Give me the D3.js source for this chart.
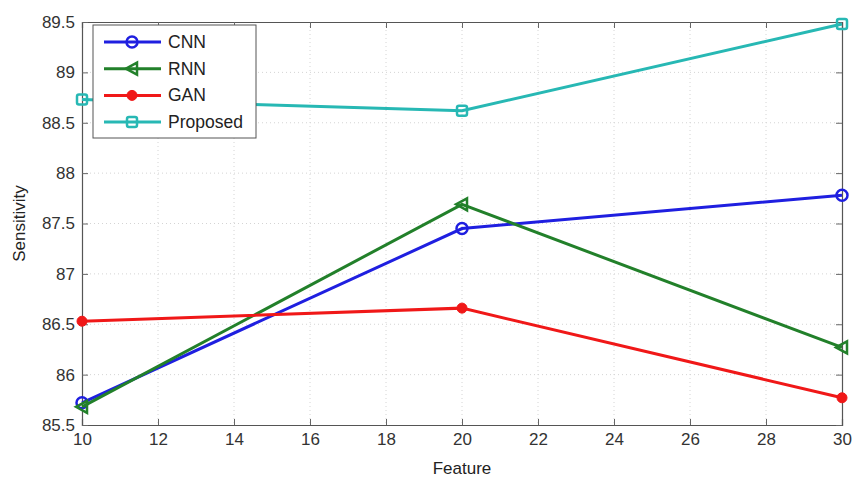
<!DOCTYPE html>
<html><head><meta charset="utf-8">
<script src="https://cdn.jsdelivr.net/npm/d3@7"></script>
<style>body{margin:0;background:#fff}svg{display:block}text{font-family:"Liberation Sans",Arial,sans-serif}</style>
</head><body><svg id="c" width="852" height="479"></svg>
<script>
const features = [10, 20, 30];
const cnn = [85.72, 87.45, 87.78];
const rnn = [85.68, 87.69, 86.27];
const gan = [86.53, 86.66, 85.77];
const proposed = [88.73, 88.62, 89.48];
const xTicks = [10,12,14,16,18,20,22,24,26,28,30];
const yTicks = [85.5,86,86.5,87,87.5,88,88.5,89,89.5];
const seriesNames = ["CNN","RNN","GAN","Proposed"];

const series = [
  {name:seriesNames[0], values:cnn, color:"#1f1fe0", marker:"circle"},
  {name:seriesNames[1], values:rnn, color:"#22802a", marker:"triangle"},
  {name:seriesNames[2], values:gan, color:"#f01818", marker:"dot"},
  {name:seriesNames[3], values:proposed, color:"#27b8b4", marker:"square"}
];

const svg = d3.select("#c");
const m = {l:82, r:842, t:22, b:425};
const x = d3.scaleLinear().domain([10,30]).range([m.l,m.r]);
const y = d3.scaleLinear().domain([85.5,89.5]).range([m.b,m.t]);

// grid
const g = svg.append("g");
g.selectAll(".gx").data(xTicks.slice(1,-1)).join("line")
  .attr("x1",d=>x(d)).attr("x2",d=>x(d)).attr("y1",m.t).attr("y2",m.b)
  .attr("stroke","#d4d4d4").attr("stroke-dasharray","1,3");
g.selectAll(".gy").data(yTicks.slice(1,-1)).join("line")
  .attr("y1",d=>y(d)).attr("y2",d=>y(d)).attr("x1",m.l).attr("x2",m.r)
  .attr("stroke","#d4d4d4").attr("stroke-dasharray","1,3");

// axes
const xa = svg.append("g").attr("transform",`translate(0,${m.b})`)
  .call(d3.axisBottom(x).tickValues(xTicks).tickSize(-6).tickPadding(8).tickFormat(d3.format("d")));
const xt = svg.append("g").attr("transform",`translate(0,${m.t})`)
  .call(d3.axisTop(x).tickValues(xTicks).tickSize(-6).tickFormat(""));
const ya = svg.append("g").attr("transform",`translate(${m.l},0)`)
  .call(d3.axisLeft(y).tickValues(yTicks).tickSize(-6).tickPadding(7).tickFormat(d=>String(d)));
const yr = svg.append("g").attr("transform",`translate(${m.r},0)`)
  .call(d3.axisRight(y).tickValues(yTicks).tickSize(-6).tickFormat(""));
[xa,xt,ya,yr].forEach(a=>{
  a.selectAll("path").attr("stroke","#555").attr("stroke-width",1.2);
  a.selectAll("line").attr("stroke","#666");
  a.selectAll("text").attr("fill","#333").style("font-size","17px");
});

svg.append("text").attr("x",(m.l+m.r)/2).attr("y",474).attr("text-anchor","middle")
  .style("font-size","17px").attr("fill","#222").text("Feature");
svg.append("text").attr("transform",`translate(25,${(m.t+m.b)/2}) rotate(-90)`).attr("text-anchor","middle")
  .style("font-size","17px").attr("fill","#222").text("Sensitivity");

const line = d3.line().x((d,i)=>x(features[i])).y(d=>y(d));

function drawMarker(sel, type, color, cx, cy){
  if(type==="circle") sel.append("circle").attr("cx",cx).attr("cy",cy).attr("r",5.5).attr("fill","none").attr("stroke",color).attr("stroke-width",2.5);
  else if(type==="dot") sel.append("circle").attr("cx",cx).attr("cy",cy).attr("r",5).attr("fill",color).attr("stroke",color).attr("stroke-width",1);
  else if(type==="square") sel.append("rect").attr("x",cx-5).attr("y",cy-5).attr("width",10).attr("height",10).attr("rx",2).attr("fill","none").attr("stroke",color).attr("stroke-width",2.5);
  else if(type==="triangle") sel.append("path").attr("d",`M${cx-6},${cy} L${cx+5},${cy-6} L${cx+5},${cy+6} Z`).attr("fill","none").attr("stroke",color).attr("stroke-width",2.5);
}

const plot = svg.append("g");
series.forEach(s=>{
  plot.append("path").datum(s.values).attr("d",line).attr("fill","none")
    .attr("stroke",s.color).attr("stroke-width",3);
  s.values.forEach((v,i)=>drawMarker(plot, s.marker, s.color, x(features[i]), y(v)));
});

// legend
const lg = svg.append("g");
lg.append("rect").attr("x",93).attr("y",25).attr("width",163).attr("height",113)
  .attr("fill","#fff").attr("stroke","#555").attr("stroke-width",1);
series.forEach((s,i)=>{
  const cy = 42 + i*26.7;
  lg.append("line").attr("x1",104).attr("x2",161).attr("y1",cy).attr("y2",cy).attr("stroke",s.color).attr("stroke-width",3);
  drawMarker(lg, s.marker, s.color, 132, cy);
  lg.append("text").attr("x",168).attr("y",cy+6).style("font-size","17.5px").attr("fill","#222").text(s.name);
});
</script></body></html>
